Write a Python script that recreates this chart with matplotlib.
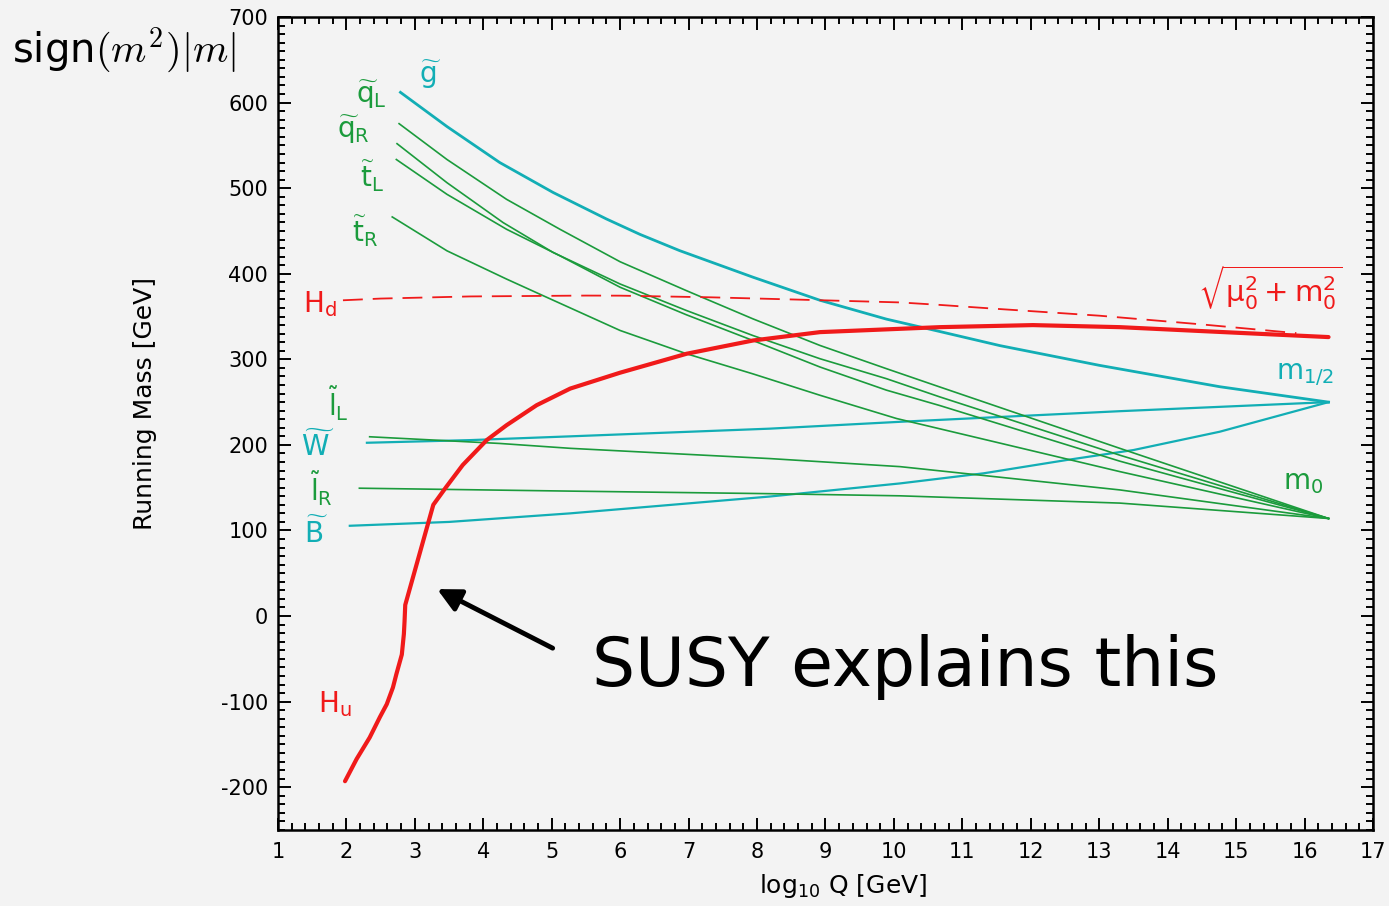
import matplotlib
matplotlib.use("Agg")
import matplotlib.pyplot as plt
from matplotlib.ticker import MultipleLocator
from matplotlib import font_manager

# colours used in the original figure
CYAN = '#12aeb5'
GREEN = '#1b9b3c'
RED = '#f01a1a'
BG = '#f3f3f3'

# running masses (x = log10 Q [GeV], y = sign(m^2)|m| [GeV])
gluino_x = [2.79, 3.47, 4.24, 5.02, 5.80, 6.29, 6.87, 7.94, 8.92, 9.89, 10.67, 11.55, 13.0, 14.76, 16.35]
gluino_y = [612, 572, 530, 495, 464, 446, 427, 396, 369, 347, 332.5, 316, 293, 268, 250]

qL_x = [2.77, 3.47, 4.34, 5.12, 6.0, 6.97, 7.94, 8.92, 9.89, 10.67, 13.3, 16.35]
qL_y = [575.4, 533.5, 487, 452, 414, 380.2, 347.3, 316.2, 289.1, 267.7, 196, 114]

qR_x = [2.74, 3.47, 4.29, 5.02, 6.0, 6.97, 7.94, 8.92, 9.89, 10.67, 13.3, 16.35]
qR_y = [552, 506.4, 459.8, 424.9, 388, 357, 327.8, 300.7, 277.4, 256.1, 188, 114]

tL_x = [2.73, 3.47, 4.34, 5.12, 6.0, 6.97, 7.94, 8.92, 9.89, 10.67, 13.3, 16.35]
tL_y = [533.5, 492.8, 452, 421, 384.2, 352, 322, 291, 264, 246, 181, 114]

tR_x = [2.67, 3.47, 4.34, 4.83, 6.0, 6.97, 7.94, 8.92, 10.04, 13.3, 16.35]
tR_y = [466.4, 426.8, 393.8, 376, 333.7, 306.5, 283, 258, 230.8, 168.8, 114]

wino_x = [2.3, 3.81, 5.27, 8.19, 10.09, 13.3, 16.35]
wino_y = [202.5, 205.6, 210, 219, 227, 239.4, 250]

bino_x = [2.05, 3.5, 5.27, 8.19, 10.09, 11.31, 12.52, 13.5, 14.76, 16.35]
bino_y = [105.5, 110, 120, 139.7, 155, 166.8, 182.3, 194, 215.4, 250]

lL_x = [2.34, 4.24, 5.27, 8.19, 10.09, 13.3, 16.35]
lL_y = [209.5, 201.7, 196, 184, 174.6, 147.4, 114]

lR_x = [2.19, 5.27, 8.19, 10.09, 13.3, 16.35]
lR_y = [149.4, 146, 143, 140.5, 132, 114]

Hu_x = [1.98, 2.15, 2.34, 2.49, 2.59, 2.68, 2.73, 2.81, 2.84, 2.85, 2.86, 3.27, 3.46, 3.70,
        4.05, 4.34, 4.78, 5.27, 6.0, 6.97, 7.94, 8.92, 10.67, 12.03, 13.3, 14.5, 16.35]
Hu_y = [-193, -167, -142, -118, -103, -83.5, -68, -45, -21, -6, 13, 130, 151, 176.5,
        205.6, 223, 246.4, 265.8, 284.4, 306.5, 322, 331.8, 337.6, 340, 337.6, 333, 326]

Hd_x = [1.95, 2.5, 3.81, 5.5, 6.0, 7.31, 8.5, 10.09, 10.67, 11.5, 13.0, 14.47, 15.88]
Hd_y = [369, 371, 373.5, 374.5, 374.4, 372.5, 370, 366.5, 363.6, 359, 351, 341, 330.6]

plt.rcParams['axes.unicode_minus'] = False
plt.rcParams['mathtext.fontset'] = 'dejavusans'

fig = plt.figure(figsize=(13.89, 9.06), dpi=100, facecolor=BG)
ax = fig.add_axes([0.2001, 0.0839, 0.7884, 0.8973])
ax.set_facecolor(BG)

ax.plot(gluino_x, gluino_y, color=CYAN, lw=2.0)
ax.plot(wino_x, wino_y, color=CYAN, lw=1.6)
ax.plot(bino_x, bino_y, color=CYAN, lw=1.6)
for xs, ys in [(qL_x, qL_y), (qR_x, qR_y), (tL_x, tL_y), (tR_x, tR_y),
               (lL_x, lL_y), (lR_x, lR_y)]:
    ax.plot(xs, ys, color=GREEN, lw=1.2)
ax.plot(Hd_x, Hd_y, color=RED, lw=1.3, ls=(0, (11, 5.5)))
ax.plot(Hu_x, Hu_y, color=RED, lw=3.0, solid_capstyle='round', solid_joinstyle='round')

ax.set_xlim(1, 17)
ax.set_ylim(-250, 700)
ax.xaxis.set_major_locator(MultipleLocator(1))
ax.xaxis.set_minor_locator(MultipleLocator(0.2))
ax.yaxis.set_major_locator(MultipleLocator(100))
ax.yaxis.set_minor_locator(MultipleLocator(10))
ax.tick_params(which='both', direction='in', top=True, right=True, width=1.4, colors='black')
ax.tick_params(which='major', length=9, labelsize=15)
ax.tick_params(which='minor', length=5)
ax.tick_params(axis='x', pad=9)
ax.tick_params(axis='y', pad=7)
for s in ax.spines.values():
    s.set_linewidth(1.8)

# axis titles
names = {f.name for f in font_manager.fontManager.ttflist}
if 'Liberation Sans Narrow' in names:
    ax.set_ylabel('Running Mass [GeV]', fontsize=24, family='Liberation Sans Narrow')
else:
    ax.set_ylabel('Running Mass [GeV]', fontsize=18)
ax.yaxis.set_label_coords(-0.11, 0.525)
ax.set_xlabel(r'log$_{10}$ Q [GeV]', fontsize=18)
ax.xaxis.set_label_coords(0.516, -0.052)

fig.text(0.0086, 0.945, r'sign$(m^2)|m|$', fontsize=29, va='center', ha='left',
         math_fontfamily='cm')

# curve labels
lab = dict(fontsize=20, ha='center', va='center')
ax.text(3.22, 632, r'$\widetilde{\mathrm{g}}$', color=CYAN, **lab)
ax.text(2.36, 609, r'$\widetilde{\mathrm{q}}_\mathrm{L}$', color=GREEN, **lab)
ax.text(2.1, 568, r'$\widetilde{\mathrm{q}}_\mathrm{R}$', color=GREEN, **lab)
ax.text(2.37, 514, r'$\widetilde{\mathrm{t}}_\mathrm{L}$', color=GREEN, **lab)
ax.text(2.27, 450, r'$\widetilde{\mathrm{t}}_\mathrm{R}$', color=GREEN, **lab)
ax.text(1.61, 365, r'$\mathrm{H_d}$', color=RED, **lab)
ax.text(1.88, 248, r'$\widetilde{\mathrm{l}}_\mathrm{L}$', color=GREEN, **lab)
ax.text(1.58, 199, r'$\widetilde{\mathrm{W}}$', color=CYAN, **lab)
ax.text(1.64, 149, r'$\widetilde{\mathrm{l}}_\mathrm{R}$', color=GREEN, **lab)
ax.text(1.56, 97, r'$\widetilde{\mathrm{B}}$', color=CYAN, **lab)
ax.text(1.83, -103, r'$\mathrm{H_u}$', color=RED, **lab)
ax.text(15.5, 384, r'$\sqrt{\mathrm{\mu_0^2+m_0^2}}$', color=RED, fontsize=21,
        ha='center', va='center')
ax.text(16.0, 283, r'$\mathrm{m_{1/2}}$', color=CYAN, **lab)
ax.text(15.98, 157, r'$\mathrm{m_0}$', color=GREEN, **lab)

# the comment
ax.annotate('', xy=(3.29, 33), xytext=(5.05, -39),
            arrowprops=dict(arrowstyle='-|>', lw=3.5, color='black', mutation_scale=35))
ax.text(10.16, -60, 'SUSY explains this', fontsize=49, ha='center', va='center')

fig.savefig('out.png', dpi=100, facecolor=BG)
